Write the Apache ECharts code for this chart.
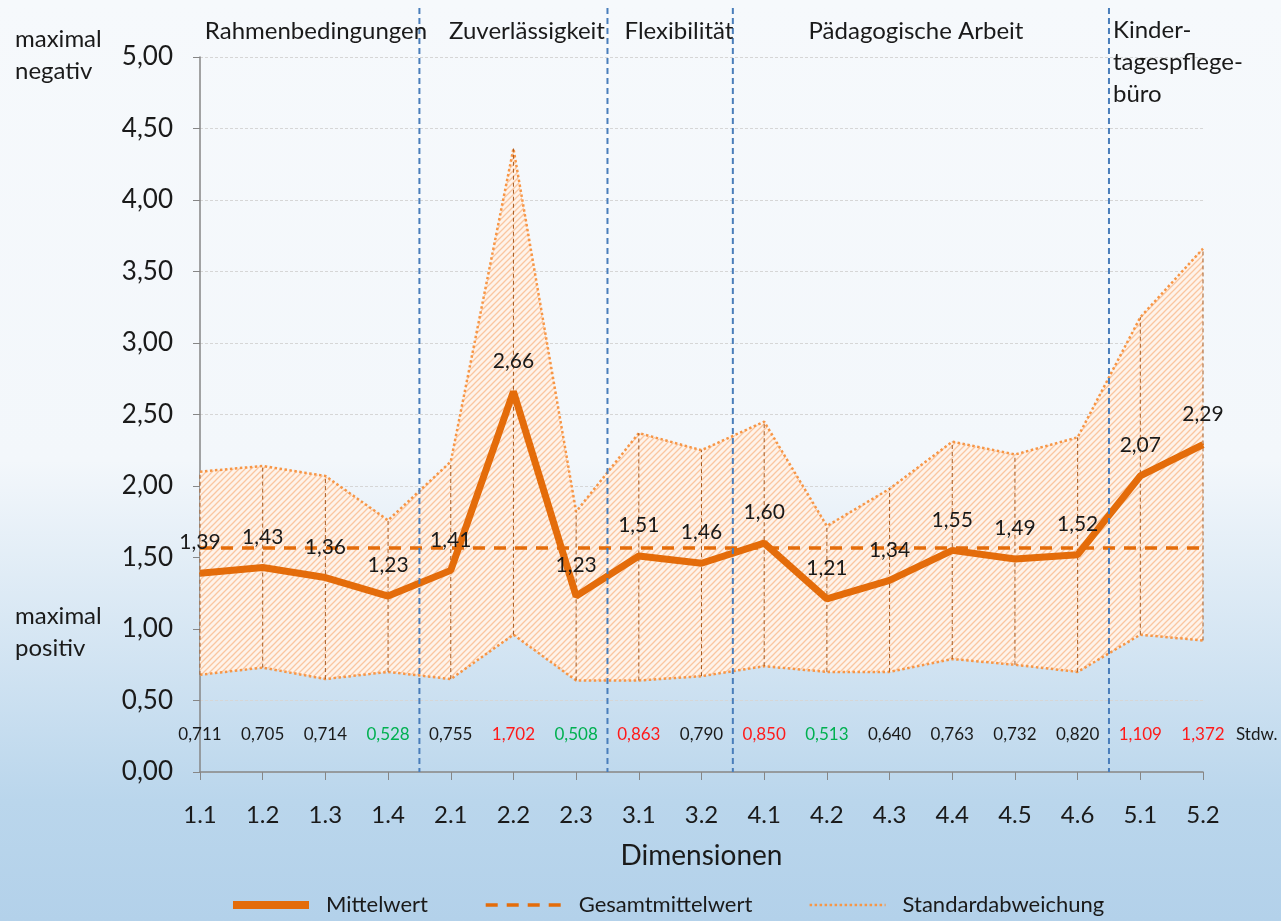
<!DOCTYPE html>
<html>
<head>
<meta charset="utf-8">
<title>Dimensionen</title>
<style>
    html, body { margin: 0; padding: 0; }
    #main { width: 1281px; height: 921px; }
</style>
</head>
<body>
<div id="main"></div>
<script src="https://cdn.jsdelivr.net/npm/echarts@6/dist/echarts.min.js"></script>
<script type="text/javascript">
    // Werte
    var categories = ['1.1', '1.2', '1.3', '1.4', '2.1', '2.2', '2.3', '3.1', '3.2',
        '4.1', '4.2', '4.3', '4.4', '4.5', '4.6', '5.1', '5.2'];
    var mittelwert = [1.39, 1.43, 1.36, 1.23, 1.41, 2.66, 1.23, 1.51, 1.46,
        1.60, 1.21, 1.34, 1.55, 1.49, 1.52, 2.07, 2.29];
    var stdw = [0.711, 0.705, 0.714, 0.528, 0.755, 1.702, 0.508, 0.863, 0.790,
        0.850, 0.513, 0.640, 0.763, 0.732, 0.820, 1.109, 1.372];
    var obereGrenze = [2.10, 2.14, 2.07, 1.76, 2.17, 4.36, 1.82, 2.37, 2.25,
        2.45, 1.72, 1.98, 2.31, 2.22, 2.34, 3.18, 3.66];
    var untereGrenze = [0.68, 0.73, 0.65, 0.70, 0.65, 0.96, 0.64, 0.64, 0.67,
        0.74, 0.70, 0.70, 0.79, 0.75, 0.70, 0.96, 0.92];
    var gesamtMittel = 1.57;
    var yTicks = [0, 0.5, 1, 1.5, 2, 2.5, 3, 3.5, 4, 4.5, 5];
    var trenner = ['1.4', '2.3', '3.2', '4.6'];

    var schrift = 'Lato, "Open Sans", sans-serif';
    var orange = '#e46c0a';

    function komma(v, n) {
        return Number(v).toFixed(n).replace('.', ',');
    }
    function stdFarbe(v) {
        if (v >= 0.85) return '#ff1a1a';
        if (v <= 0.53) return '#00b050';
        return '#1a1a1a';
    }

    // Schraffur fuer das Band
    var muster = document.createElement('canvas');
    muster.width = 6;
    muster.height = 6;
    var ctx = muster.getContext('2d');
    ctx.fillStyle = '#fef3ea';
    ctx.fillRect(0, 0, 6, 6);
    ctx.strokeStyle = '#fac6a0';
    ctx.lineWidth = 1.3;
    ctx.beginPath();
    ctx.moveTo(0, 6); ctx.lineTo(6, 0);
    ctx.moveTo(-1, 1); ctx.lineTo(1, -1);
    ctx.moveTo(5, 7); ctx.lineTo(7, 5);
    ctx.stroke();

    var bandHoehe = obereGrenze.map(function (v, i) {
        return +(v - untereGrenze[i]).toFixed(3);
    });

    var myChart = echarts.init(document.getElementById('main'));

    myChart.setOption({
        animation: false,
        backgroundColor: {
            type: 'linear', x: 0, y: 0, x2: 0, y2: 1,
            colorStops: [
                {offset: 0, color: '#f6f9fc'},
                {offset: 0.5, color: '#f3f7fb'},
                {offset: 0.87, color: '#bad6ec'},
                {offset: 1, color: '#b3d1ea'}
            ]
        },
        textStyle: {fontFamily: schrift},
        grid: {left: 200, right: 78, top: 57, bottom: 149},
        legend: {
            data: [
                {name: 'Mittelwert', lineStyle: {width: 8, color: orange}},
                {name: 'Gesamtmittelwert', lineStyle: {width: 3.5, type: [12, 9], color: orange}},
                {name: 'Standardabweichung', lineStyle: {width: 2.5, type: 'dotted', color: '#f79646'}}
            ],
            left: 224,
            bottom: 0,
            itemWidth: 76,
            itemHeight: 14,
            itemGap: 56,
            itemStyle: {opacity: 0},
            textStyle: {fontSize: 22, color: '#1a1a1a', fontFamily: schrift, padding: [0, 0, 0, 12]}
        },
        xAxis: {
            type: 'category',
            data: categories,
            boundaryGap: false,
            name: 'Dimensionen',
            nameLocation: 'middle',
            nameGap: 70,
            nameTextStyle: {fontSize: 28, color: '#1a1a1a'},
            axisLine: {lineStyle: {color: '#868686', width: 1.5}},
            axisTick: {length: 8, lineStyle: {color: '#868686'}},
            axisLabel: {fontSize: 24, color: '#1a1a1a', margin: 31}
        },
        yAxis: {
            type: 'value',
            min: yTicks[0],
            max: yTicks[yTicks.length - 1],
            interval: 0.5,
            axisLine: {show: true, lineStyle: {color: '#868686', width: 1.5}},
            axisTick: {show: true, length: 7, lineStyle: {color: '#868686'}},
            axisLabel: {
                fontSize: 26, color: '#1a1a1a', margin: 27,
                formatter: function (v) { return komma(v, 2); }
            },
            splitLine: {lineStyle: {color: '#d6d6d6', type: [3, 2]}}
        },
        series: [
            {
                name: 'untere',
                type: 'line',
                stack: 'sd',
                data: untereGrenze,
                symbol: 'none',
                silent: true,
                lineStyle: {color: '#f79646', width: 2.5, type: 'dotted'},
                z: 2
            },
            {
                name: 'Standardabweichung',
                type: 'line',
                stack: 'sd',
                data: bandHoehe,
                symbol: 'none',
                silent: true,
                lineStyle: {color: '#f79646', width: 2.5, type: 'dotted'},
                itemStyle: {color: '#f79646'},
                areaStyle: {color: {image: muster, repeat: 'repeat'}, opacity: 1},
                z: 2
            },
            {
                name: 'streuung',
                type: 'custom',
                data: categories.map(function (c, i) { return [i, untereGrenze[i], obereGrenze[i]]; }),
                renderItem: function (params, api) {
                    var p1 = api.coord([api.value(0), api.value(1)]);
                    var p2 = api.coord([api.value(0), api.value(2)]);
                    return {
                        type: 'line',
                        shape: {x1: p1[0], y1: p1[1], x2: p2[0], y2: p2[1]},
                        style: {stroke: '#a65b22', lineWidth: 1, lineDash: [4, 3]}
                    };
                },
                silent: true,
                z: 3
            },
            {
                name: 'Gesamtmittelwert',
                type: 'line',
                data: [],
                symbol: 'none',
                lineStyle: {color: orange, width: 3.5, type: [12, 9]},
                itemStyle: {color: orange},
                markLine: {
                    silent: true,
                    symbol: 'none',
                    label: {show: false},
                    lineStyle: {color: orange, width: 3.5, type: [12, 9]},
                    data: [{yAxis: gesamtMittel}]
                },
                z: 4
            },
            {
                name: 'Mittelwert',
                type: 'line',
                data: mittelwert,
                symbol: 'circle',
                symbolSize: 2,
                showSymbol: true,
                lineStyle: {color: orange, width: 7},
                itemStyle: {color: orange},
                label: {
                    show: true,
                    position: 'top',
                    distance: 19,
                    fontSize: 21,
                    color: '#1a1a1a',
                    formatter: function (p) { return komma(p.value, 2); }
                },
                labelLayout: {hideOverlap: false},
                z: 5
            },
            {
                name: 'stdwerte',
                type: 'custom',
                data: categories.map(function (c, i) { return [i, stdw[i]]; }),
                renderItem: function (params, api) {
                    var p = api.coord([api.value(0), 0.26]);
                    var v = api.value(1);
                    return {
                        type: 'text',
                        x: p[0],
                        y: p[1],
                        style: {
                            text: komma(v, 3),
                            fill: stdFarbe(v),
                            fontSize: 17,
                            fontFamily: schrift,
                            align: 'center',
                            verticalAlign: 'middle'
                        }
                    };
                },
                silent: true,
                z: 6
            }
        ]
    });

    // Abschnittstrenner und Beschriftungen
    var yNull = myChart.convertToPixel({yAxisIndex: 0}, 0);
    var elemente = trenner.map(function (c) {
        var i = categories.indexOf(c);
        var x = (myChart.convertToPixel({xAxisIndex: 0}, categories[i]) +
            myChart.convertToPixel({xAxisIndex: 0}, categories[i + 1])) / 2;
        return {
            type: 'line',
            shape: {x1: x, y1: 8, x2: x, y2: yNull},
            style: {stroke: '#4a7ebb', lineWidth: 2, lineDash: [6, 4]},
            z: 10
        };
    });
    var texte = [
        {t: 'Rahmenbedingungen', x: 316, y: 31, a: 'center'},
        {t: 'Zuverlässigkeit', x: 527, y: 31, a: 'center'},
        {t: 'Flexibilität', x: 679, y: 31, a: 'center'},
        {t: 'Pädagogische Arbeit', x: 916, y: 31, a: 'center'},
        {t: 'Kinder-\ntagespflege-\nbüro', x: 1113, y: 14, a: 'left'},
        {t: 'maximal\nnegativ', x: 15, y: 23, a: 'left'},
        {t: 'maximal\npositiv', x: 15, y: 600, a: 'left'},
        {t: 'Stdw.', x: 1236, y: 735, a: 'left'}
    ];
    texte.forEach(function (d) {
        var klein = d.t === 'Stdw.';
        elemente.push({
            type: 'text',
            x: d.x,
            y: d.y,
            style: {
                text: d.t,
                fill: '#1a1a1a',
                fontSize: klein ? 17 : 24,
                fontFamily: schrift,
                lineHeight: 32,
                align: d.a,
                verticalAlign: klein || d.a === 'center' ? 'middle' : 'top'
            },
            z: 10
        });
    });
    myChart.setOption({graphic: elemente});
</script>
</body>
</html>
